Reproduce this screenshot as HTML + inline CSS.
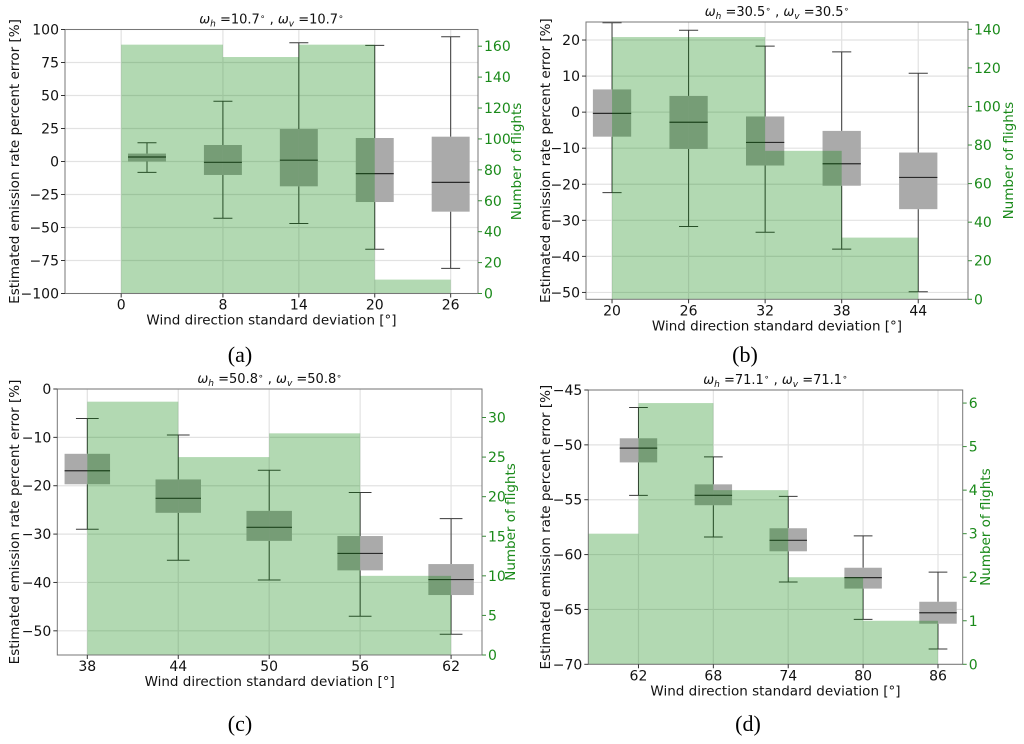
<!DOCTYPE html>
<html><head><meta charset="utf-8"><style>
html,body{margin:0;padding:0;background:#fff;}
svg{display:block;font-family:"DejaVu Sans","Liberation Sans",sans-serif;}
</style></head><body>
<svg id="fig" width="1024" height="744" viewBox="0 0 1024 744" xmlns="http://www.w3.org/2000/svg"></svg>
<script>
// ---- Panel (a) data ----
const aTitle = ['10.7','10.7'];
const aTickLabels = ['0','8','14','20','26'];
const aTickVals = [-0.34,1,2,3,4];
const aBinEdges = [-0.34,1,2,3,4];
const aCounts = [161,153,161,9];
const aWhiskHi = [14.2,45.6,90,88,94.5];
const aQ3 = [6,12.5,24.6,17.8,18.8];
const aMed = [3.4,-0.6,1,-9.2,-15.8];
const aQ1 = [0,-10.2,-18.8,-30.7,-38];
const aWhiskLo = [-8.2,-43,-47,-66.5,-81];
const aYTicks = [-100,-75,-50,-25,0,25,50,75,100];
const aY2Ticks = [0,20,40,60,80,100,120,140,160];
// ---- Panel (b) data ----
const bTitle = ['30.5','30.5'];
const bTickLabels = ['20','26','32','38','44'];
const bTickVals = [0,1,2,3,4];
const bBinEdges = [0,1,2,3,4];
const bCounts = [136,136,77,32];
const bWhiskHi = [24.8,22.7,18.3,16.7,10.8];
const bQ3 = [6.3,4.5,-1.2,-5.2,-11.2];
const bMed = [-0.35,-2.8,-8.4,-14.3,-18.1];
const bQ1 = [-6.8,-10.2,-14.8,-20.4,-26.9];
const bWhiskLo = [-22.3,-31.7,-33.3,-38,-49.8];
const bYTicks = [-50,-40,-30,-20,-10,0,10,20];
const bY2Ticks = [0,20,40,60,80,100,120,140];
// ---- Panel (c) data ----
const cTitle = ['50.8','50.8'];
const cTickLabels = ['38','44','50','56','62'];
const cTickVals = [0,1,2,3,4];
const cBinEdges = [0,1,2,3,4];
const cCounts = [32,25,28,10];
const cWhiskHi = [-6.1,-9.5,-16.8,-21.4,-26.8];
const cQ3 = [-13.4,-18.7,-25.2,-30.4,-36.2];
const cMed = [-16.9,-22.6,-28.6,-34.0,-39.4];
const cQ1 = [-19.7,-25.6,-31.4,-37.5,-42.6];
const cWhiskLo = [-29,-35.4,-39.5,-47,-50.7];
const cYTicks = [-50,-40,-30,-20,-10,0];
const cY2Ticks = [0,5,10,15,20,25,30];
// ---- Panel (d) data ----
const dTitle = ['71.1','71.1'];
const dTickLabels = ['62','68','74','80','86'];
const dTickVals = [0,1,2,3,4];
const dBinEdges = [-1,0,1,2,3,4];
const dCounts = [3,6,4,2,1];
const dWhiskHi = [-46.6,-51.1,-54.7,-58.3,-61.6];
const dQ3 = [-49.4,-53.6,-57.6,-61.2,-64.3];
const dMed = [-50.3,-54.6,-58.7,-62.1,-65.3];
const dQ1 = [-51.6,-55.5,-59.7,-63.1,-66.3];
const dWhiskLo = [-54.6,-58.4,-62.5,-65.9,-68.6];
const dYTicks = [-70,-65,-60,-55,-50,-45];
const dY2Ticks = [0,1,2,3,4,5,6];

const NS='http://www.w3.org/2000/svg';
const svg=document.getElementById('fig');
function mk(parent,tag,attrs,text){const e=document.createElementNS(NS,tag);for(const k in attrs)e.setAttribute(k,attrs[k]);if(text!==undefined)e.textContent=text;parent.appendChild(e);return e;}
function fmt(v){return v<0?'\u2212'+Math.abs(v):String(v);}

const panels=[
 {id:'a',cap:'(a)',capX:240,capY:362,box:[65,478,29.5,293.5],xlim:[-1.08,4.36],ylim:[-100,100],y2lim:[0,170.8],ylabX:14,y2labX:516,
  title:aTitle,tl:aTickLabels,tv:aTickVals,edges:aBinEdges,counts:aCounts,wh:aWhiskHi,q3:aQ3,med:aMed,q1:aQ1,wl:aWhiskLo,yt:aYTicks,y2t:aY2Ticks},
 {id:'b',cap:'(b)',capX:745,capY:362,box:[586,968,22,299.3],xlim:[-0.34,4.65],ylim:[-51.9,25],y2lim:[0,143.8],ylabX:545,y2labX:1008,
  title:bTitle,tl:bTickLabels,tv:bTickVals,edges:bBinEdges,counts:bCounts,wh:bWhiskHi,q3:bQ3,med:bMed,q1:bQ1,wl:bWhiskLo,yt:bYTicks,y2t:bY2Ticks},
 {id:'c',cap:'(c)',capX:240,capY:731,box:[57.3,482,389,655],xlim:[-0.33,4.34],ylim:[-55,0],y2lim:[0,33.6],ylabX:14,y2labX:510,
  title:cTitle,tl:cTickLabels,tv:cTickVals,edges:cBinEdges,counts:cCounts,wh:cWhiskHi,q3:cQ3,med:cMed,q1:cQ1,wl:cWhiskLo,yt:cYTicks,y2t:cY2Ticks},
 {id:'d',cap:'(d)',capX:748,capY:731,box:[588.3,962.7,390,664.3],xlim:[-0.67,4.33],ylim:[-70,-45],y2lim:[0,6.3],ylabX:545,y2labX:985,
  title:dTitle,tl:dTickLabels,tv:dTickVals,edges:dBinEdges,counts:dCounts,wh:dWhiskHi,q3:dQ3,med:dMed,q1:dQ1,wl:dWhiskLo,yt:dYTicks,y2t:dY2Ticks}
];

panels.forEach(p=>{
  const [x0,x1,y0,y1]=p.box;
  const X=v=>x0+(v-p.xlim[0])/(p.xlim[1]-p.xlim[0])*(x1-x0);
  const Y=v=>y1-(v-p.ylim[0])/(p.ylim[1]-p.ylim[0])*(y1-y0);
  const Y2=v=>y1-(v-p.y2lim[0])/(p.y2lim[1]-p.y2lim[0])*(y1-y0);
  const g=mk(svg,'g',{});
  
  
  const clip=mk(g,'clipPath',{id:'clip-'+p.id});
  mk(clip,'rect',{x:x0,y:y0,width:x1-x0,height:y1-y0});
  const grid=mk(g,'g',{stroke:'#e2e2e2','stroke-width':1.2});
  
  
  p.yt.forEach(v=>{mk(grid,'line',{x1:x0,x2:x1,y1:Y(v),y2:Y(v)});});
  p.tv.forEach(v=>{mk(grid,'line',{x1:X(v),x2:X(v),y1:y0,y2:y1});});
  const bw=0.5;
  p.med.forEach((m,i)=>{
    const bg=mk(g,'g',{});
    
    
    const cx=X(i), hw=(X(bw)-X(0))/2;
    mk(bg,'line',{x1:cx,x2:cx,y1:Y(p.wh[i]),y2:Y(p.q3[i]),stroke:'#3a3a3a','stroke-width':1});
    mk(bg,'line',{x1:cx,x2:cx,y1:Y(p.q1[i]),y2:Y(p.wl[i]),stroke:'#3a3a3a','stroke-width':1});
    mk(bg,'line',{x1:cx-hw/2,x2:cx+hw/2,y1:Y(p.wh[i]),y2:Y(p.wh[i]),stroke:'#3a3a3a','stroke-width':1});
    mk(bg,'line',{x1:cx-hw/2,x2:cx+hw/2,y1:Y(p.wl[i]),y2:Y(p.wl[i]),stroke:'#3a3a3a','stroke-width':1});
    mk(bg,'rect',{x:cx-hw,y:Y(p.q3[i]),width:2*hw,height:Y(p.q1[i])-Y(p.q3[i]),fill:'#aaaaaa'});
    mk(bg,'line',{x1:cx-hw,x2:cx+hw,y1:Y(p.med[i]),y2:Y(p.med[i]),stroke:'#2a2a2a','stroke-width':1.2});
  });
  const hg=mk(g,'g',{'clip-path':'url(#clip-'+p.id+')'});
  p.counts.forEach((c,i)=>{
    const r=mk(hg,'rect',{x:X(p.edges[i]),y:Y2(c),width:X(p.edges[i+1])-X(p.edges[i]),height:y1-Y2(c),fill:'rgb(0,128,0)','fill-opacity':0.3});
    
    
  });
  const sp=mk(g,'rect',{x:x0,y:y0,width:x1-x0,height:y1-y0,fill:'none',stroke:'#777','stroke-width':1});
  
  
  p.yt.forEach(v=>{
    mk(g,'line',{x1:x0-4,x2:x0,y1:Y(v),y2:Y(v),stroke:'#333'});
    const t=mk(g,'text',{x:x0-6,y:Y(v)+5,'text-anchor':'end','font-size':14,fill:'#111'},fmt(v));
    
    
  });
  p.y2t.forEach(v=>{
    mk(g,'line',{x1:x1,x2:x1+4,y1:Y2(v),y2:Y2(v),stroke:'#3a8a3a'});
    const t=mk(g,'text',{x:x1+6,y:Y2(v)+5,'text-anchor':'start','font-size':14,fill:'#1a8a1a'},fmt(v));
    
    
  });
  p.tv.forEach((v,i)=>{
    mk(g,'line',{x1:X(v),x2:X(v),y1:y1,y2:y1+4,stroke:'#333'});
    const t=mk(g,'text',{x:X(v),y:y1+16,'text-anchor':'middle','font-size':14,fill:'#111'},p.tl[i]);
    
    
  });
  const xl=mk(g,'text',{x:(x0+x1)/2,y:y1+31,'text-anchor':'middle','font-size':13.5,fill:'#111'},'Wind direction standard deviation [\u00b0]');
  
  
  const yl=mk(g,'text',{x:0,y:0,'text-anchor':'middle','font-size':13.5,fill:'#111',transform:'translate('+(p.ylabX+5)+','+((y0+y1)/2)+') rotate(-90)'},'Estimated emission rate percent error [%]');
  
  
  const y2l=mk(g,'text',{x:0,y:0,'text-anchor':'middle','font-size':13.5,fill:'#1a8a1a',transform:'translate('+(p.y2labX+5)+','+((y0+y1)/2)+') rotate(-90)'},'Number of flights');
  
  
  const tt=mk(g,'text',{x:(x0+x1)/2,y:y0-6,'text-anchor':'middle','font-size':13,fill:'#111'});
  
  
  mk(tt,'tspan',{'font-style':'italic'},'\u03c9');
  mk(tt,'tspan',{'font-style':'italic','font-size':9,dy:3},'h');
  mk(tt,'tspan',{dy:-3},' =' +p.title[0]);
  mk(tt,'tspan',{'font-size':9,dy:-4},'\u2218');
  mk(tt,'tspan',{dy:4},' , ');
  mk(tt,'tspan',{'font-style':'italic'},'\u03c9');
  mk(tt,'tspan',{'font-style':'italic','font-size':9,dy:3},'v');
  mk(tt,'tspan',{dy:-3},' =' +p.title[1]);
  mk(tt,'tspan',{'font-size':9,dy:-4},'\u2218');
  const cp=mk(g,'text',{x:p.capX,y:p.capY,'text-anchor':'middle','font-size':22,fill:'#000','font-family':'Liberation Serif, serif'},p.cap);
  
  
});
</script>
</body></html>
